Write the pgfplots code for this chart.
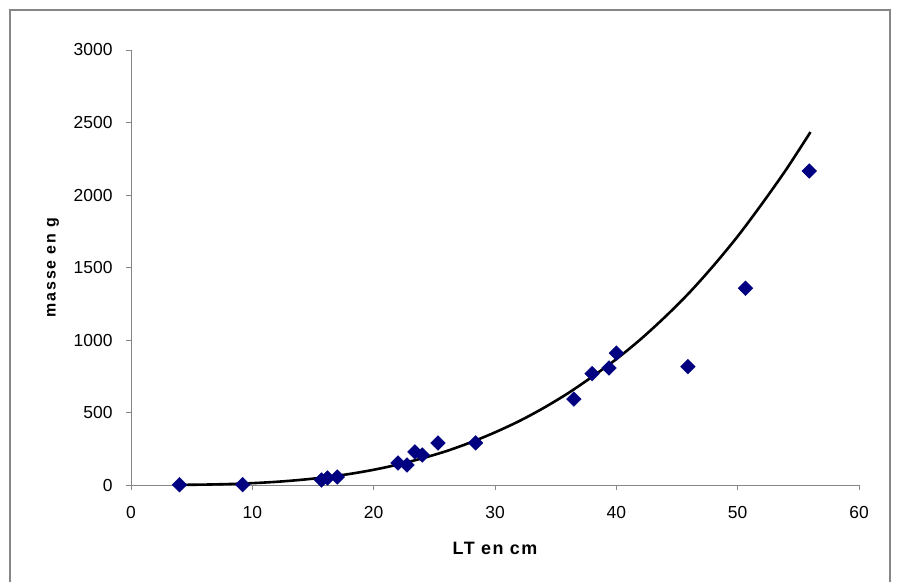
\documentclass[border=0pt]{standalone}
\usepackage{fontspec}
\setmainfont{Liberation Sans}
\usepackage{pgfplots}
\pgfplotsset{compat=1.18}
\definecolor{navy}{RGB}{0,0,128}
\definecolor{axisgray}{RGB}{134,134,134}

\begin{document}
\begin{tikzpicture}
\path[use as bounding box, fill=white] (0,0) rectangle (899bp,582bp);
\draw[axisgray, line width=1.3bp] (10bp,-2bp) -- (10bp,572bp) -- (890bp,572bp) -- (890bp,-2bp);
\begin{axis}[
    at={(131bp,97bp)}, anchor=south west,
    scale only axis,
    width=728bp, height=435bp,
    xmin=0, xmax=60, ymin=0, ymax=3000,
    xtick={0,10,...,60},
    ytick={0,500,...,3000},
    axis lines*=left,
    axis line style={axisgray, line width=0.9bp, -},
    tick align=outside,
    major tick length=5bp,
    tick style={axisgray, line width=0.9bp},
    every tick label/.append style={font=\fontsize{17.5}{20}\selectfont, text=black},
    /pgf/number format/assume math mode=true,
    scaled y ticks=false,
    yticklabel style={/pgf/number format/1000 sep={}, xshift=-10bp},
    xticklabel style={yshift=-13bp},
    xlabel={\bfseries\addfontfeatures{LetterSpace=8}LT en cm},
    ylabel={\bfseries\addfontfeatures{LetterSpace=12}masse en g},
    xlabel style={font=\fontsize{18}{20}\selectfont, at={(axis description cs:0.5,-0.145)}, anchor=center},
    ylabel style={font=\fontsize{16}{18}\selectfont, at={(axis description cs:-0.107,0.5)}, anchor=center, rotate=0},
    clip=false,
]
% power trendline
\addplot[black, line width=2.6bp, smooth] coordinates {
    (4,0.8) (6,2.7) (8,6.4) (10,12.7) (12,22) (14,35.5) (16,53) (18,76)
    (20,105) (22,141) (24,184) (26,234) (28,294) (30,363) (32,441)
    (34,531) (36,632) (38,746) (40,868) (42,1005) (44,1158) (46,1325)
    (48,1512) (50,1715) (52,1939) (54,2176) (56,2434)
};
% measured fish
\addplot[only marks, mark=square*, mark size=5.2bp, mark options={rotate=45, fill=navy, draw=navy}] coordinates {
    (4.0,2) (9.2,3) (15.7,34) (16.2,48) (17.0,55)
    (22.0,152) (22.75,138) (23.4,228) (24.0,207) (25.3,290) (28.4,290)
    (36.5,593) (38.0,768) (39.4,807) (40.0,910)
    (45.9,816) (50.65,1357) (55.9,2166)
};
\end{axis}
\end{tikzpicture}
\end{document}
